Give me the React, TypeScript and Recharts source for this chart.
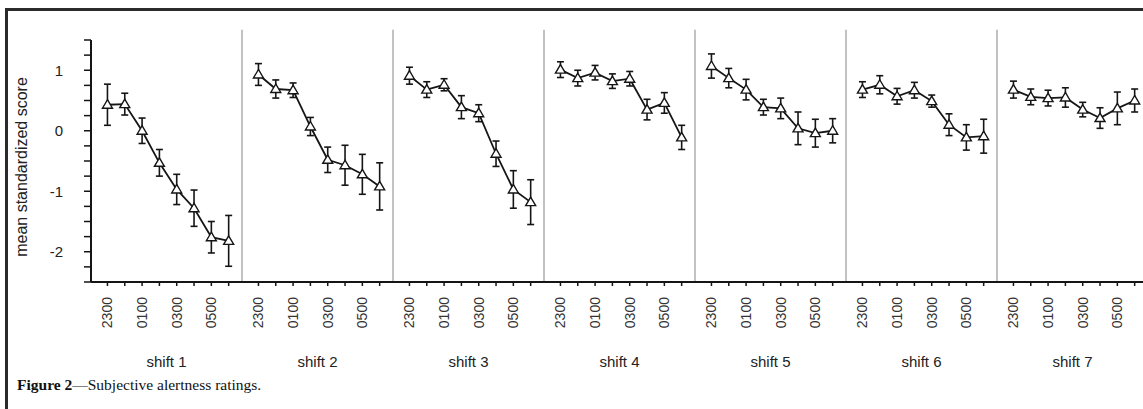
import { LineChart, Line, XAxis, YAxis, ErrorBar, ReferenceLine } from "recharts";

const TIMES = ["2300", "0000", "0100", "0200", "0300", "0400", "0500", "0600"];
const SHIFTS = ["shift 1", "shift 2", "shift 3", "shift 4", "shift 5", "shift 6", "shift 7"];

// mean standardized score per hour, and the error bar half-length
const SHIFT1 = [0.43, 0.44, 0.0, -0.53, -0.97, -1.28, -1.76, -1.82];
const ERR1 = [0.34, 0.18, 0.21, 0.22, 0.25, 0.3, 0.26, 0.42];
const SHIFT2 = [0.93, 0.69, 0.67, 0.07, -0.48, -0.57, -0.72, -0.92];
const ERR2 = [0.18, 0.15, 0.12, 0.15, 0.21, 0.33, 0.33, 0.39];
const SHIFT3 = [0.91, 0.68, 0.76, 0.39, 0.29, -0.38, -0.97, -1.18];
const ERR3 = [0.14, 0.13, 0.1, 0.19, 0.14, 0.21, 0.31, 0.37];
const SHIFT4 = [1.01, 0.87, 0.96, 0.82, 0.86, 0.35, 0.46, -0.11];
const ERR4 = [0.13, 0.13, 0.12, 0.12, 0.12, 0.17, 0.17, 0.2];
const SHIFT5 = [1.07, 0.87, 0.68, 0.39, 0.37, 0.04, -0.04, 0.0];
const ERR5 = [0.2, 0.16, 0.17, 0.13, 0.17, 0.27, 0.23, 0.2];
const SHIFT6 = [0.68, 0.76, 0.57, 0.67, 0.49, 0.1, -0.11, -0.09];
const ERR6 = [0.13, 0.15, 0.13, 0.13, 0.1, 0.18, 0.21, 0.28];
const SHIFT7 = [0.68, 0.56, 0.54, 0.55, 0.35, 0.21, 0.37, 0.5];
const ERR7 = [0.14, 0.13, 0.13, 0.16, 0.12, 0.17, 0.27, 0.19];

const Y_TICKS = [-2.5, -2.25, -2, -1.75, -1.5, -1.25, -1, -0.75, -0.5, -0.25, 0, 0.25, 0.5, 0.75, 1, 1.25, 1.5];

const MEANS = [SHIFT1, SHIFT2, SHIFT3, SHIFT4, SHIFT5, SHIFT6, SHIFT7];
const ERRS = [ERR1, ERR2, ERR3, ERR4, ERR5, ERR6, ERR7];

const PANEL = 8.72; // slots per shift panel
const OFFSET = 0.95;
const X_MAX = PANEL * SHIFTS.length;

const series = MEANS.map((vals, p) =>
  vals.map((v, i) => ({ x: p * PANEL + OFFSET + i, v, err: ERRS[p][i] }))
);
const timeTicks = series.flat().map((d) => d.x);
const shiftTicks = SHIFTS.map((_, p) => p * PANEL + PANEL / 2);
const separators = SHIFTS.slice(1).map((_, k) => (k + 1) * PANEL);

const SANS = "'Liberation Sans', Arial, sans-serif";
const INK = "#151515";
const FRAME = "#2b2b2b";

const Triangle = (props: any) => {
  const { cx, cy, index, dataKey } = props;
  if (cx == null || cy == null) return <g key={`t-${dataKey}-${index}`} />;
  return (
    <polygon
      key={`t-${cx}-${index}`}
      points={`${cx},${cy - 5} ${cx - 5},${cy + 3.5} ${cx + 5},${cy + 3.5}`}
      fill="#fff"
      stroke={INK}
      strokeWidth={1.4}
    />
  );
};

const TimeTick = (props: any) => {
  const { x, y, index } = props;
  const i = index % TIMES.length;
  if (i % 2 === 1) return <g />;
  const ty = y + 9;
  return (
    <text
      x={x}
      y={ty}
      dy="0.35em"
      textAnchor="end"
      transform={`rotate(-90, ${x}, ${ty})`}
      fontSize={14}
      fill="#333"
      fontFamily={SANS}
    >
      {TIMES[i]}
    </text>
  );
};

const ShiftTick = (props: any) => {
  const { x, y, index } = props;
  return (
    <text x={x} y={y + 30} textAnchor="middle" fontSize={15} fill="#222" fontFamily={SANS}>
      {SHIFTS[index]}
    </text>
  );
};

const YTitle = (props: any) => {
  const vb = props.viewBox || { y: 40, height: 242 };
  const cx = 21;
  const cy = vb.y + vb.height / 2 + 6;
  return (
    <text
      x={cx}
      y={cy}
      dy="0.35em"
      textAnchor="middle"
      transform={`rotate(-90, ${cx}, ${cy})`}
      fontSize={16}
      fill="#222"
      fontFamily={SANS}
    >
      mean standardized score
    </text>
  );
};

export default function App() {
  return (
    <div
      style={{
        position: "absolute",
        left: 0,
        top: 0,
        width: 1143,
        height: 409,
        overflow: "hidden",
        background: "#fff",
      }}
    >
      {/* figure frame: only top and left edges fall inside the crop */}
      <div style={{ position: "absolute", left: 5, top: 8, width: 1138, height: 3, background: FRAME }} />
      <div style={{ position: "absolute", left: 5, top: 8, width: 3, height: 401, background: FRAME }} />
      <div style={{ position: "absolute", left: 0, top: 0, width: 1143, height: 409, overflow: "hidden" }}>
        <LineChart width={1150} height={409} margin={{ top: 40, right: 2, bottom: 32, left: 0 }}>
          <XAxis
            dataKey="x"
            type="number"
            domain={[0, X_MAX]}
            ticks={timeTicks}
            interval={0}
            allowDataOverflow
            height={55}
            tickSize={4}
            tickMargin={2}
            axisLine={{ stroke: INK, strokeWidth: 2 }}
            tickLine={{ stroke: INK, strokeWidth: 1.5 }}
            tick={<TimeTick />}
          />
          <XAxis
            xAxisId="shift"
            dataKey="x"
            type="number"
            domain={[0, X_MAX]}
            ticks={shiftTicks}
            interval={0}
            allowDataOverflow
            height={40}
            tickSize={0}
            tickMargin={0}
            axisLine={false}
            tickLine={false}
            tick={<ShiftTick />}
          />
          <YAxis
            type="number"
            domain={[-2.5, 1.5]}
            ticks={Y_TICKS}
            interval={0}
            width={91}
            tickSize={7}
            tickMargin={21}
            axisLine={{ stroke: INK, strokeWidth: 2 }}
            tickLine={{ stroke: INK, strokeWidth: 1.5 }}
            tick={{ fontSize: 15, fill: "#222", fontFamily: SANS }}
            tickFormatter={(v: number) => (Number.isInteger(v) ? String(v) : "")}
            label={<YTitle />}
          />
          {separators.map((s) => (
            <ReferenceLine
              key={s}
              segment={[
                { x: s, y: -2.5 },
                { x: s, y: 1.67 },
              ]}
              ifOverflow="visible"
              stroke="#c2c2c2"
              strokeWidth={2}
            />
          ))}
          {series.map((d, p) => (
            <Line
              key={p}
              data={d}
              dataKey="v"
              stroke={INK}
              strokeWidth={1.8}
              dot={Triangle}
              activeDot={false}
              isAnimationActive={false}
            >
              <ErrorBar dataKey="err" direction="y" width={3.5} stroke={INK} strokeWidth={1.6} />
            </Line>
          ))}
        </LineChart>
      </div>
      <div
        style={{
          position: "absolute",
          left: 17,
          top: 376,
          fontFamily: "'Liberation Serif', 'Times New Roman', serif",
          fontSize: 15.5,
          lineHeight: "17px",
          color: "#111",
          whiteSpace: "nowrap",
        }}
      >
        <b>Figure 2</b>—Subjective alertness ratings.
      </div>
    </div>
  );
}
